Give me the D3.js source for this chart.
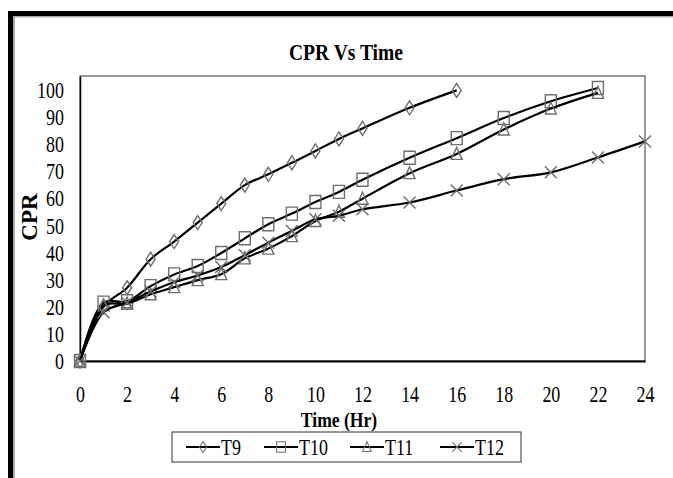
<!DOCTYPE html>
<html>
<head>
<meta charset="utf-8">
<script src="https://cdn.jsdelivr.net/npm/d3@7"></script>
<style>
    body { margin: 0; background: #fff; }
    svg text { font-family: "Liberation Serif", "DejaVu Serif", serif; fill: #000; }
</style>
</head>
<body>
<div id="chart"></div>
<script>
// data
const time = [0, 1, 2, 3, 4, 5, 6, 7, 8, 9, 10, 11, 12, 14, 16, 18, 20, 22, 24];
const t9 = [0, 20, 27, 37.5, 44, 51, 58, 64.8, 68.8, 73, 77.4, 81.8, 85.7, 93.3, 99.7];
const t10 = [0, 21.5, 22, 27.6, 31.9, 35, 39.8, 45.2, 50.4, 54.3, 58.6, 62.3, 66.8, 74.9, 82.1, 89.5, 95.7, 100.6];
const t11 = [0, 20.5, 21.1, 24.6, 27.2, 29.8, 32, 37.8, 41.4, 46, 51.6, 55, 59.8, 69.2, 76.3, 85.3, 93, 98.8];
const t12 = [0, 18, 21.5, 25.6, 29, 31.5, 34.6, 39, 43.6, 47.9, 52.2, 53.5, 55.9, 58.4, 62.8, 67, 69.5, 75, 80.9];
const seriesNames = ["T9", "T10", "T11", "T12"];
const seriesMarkers = ["diamond", "square", "triangle", "cross"];
const xTicks = [0, 2, 4, 6, 8, 10, 12, 14, 16, 18, 20, 22, 24];
const yTicks = [0, 10, 20, 30, 40, 50, 60, 70, 80, 90, 100];

function cprchart() {
    let width = 673,
        height = 478,
        left = 80,
        right = 645,
        top = 76,
        bottom = 361,
        squeeze = 0.78;

    let svg = d3.select("#chart")
        .append("svg")
        .attr("width", width)
        .attr("height", height);

    // outer frame (left and top only are visible)
    svg.append("rect").attr("x", 8).attr("y", 11).attr("width", 5).attr("height", height - 11).style("fill", "#000");
    svg.append("rect").attr("x", 13).attr("y", 16).attr("width", 2).attr("height", height - 16).style("fill", "#aaa");
    svg.append("rect").attr("x", 8).attr("y", 11).attr("width", width - 8).attr("height", 5).style("fill", "#000");
    svg.append("rect").attr("x", 13).attr("y", 16).attr("width", width - 13).attr("height", 1.5).style("fill", "#aaa");

    let x = d3.scaleLinear().domain([0, 24]).range([left, right]);
    let y = d3.scaleLinear().domain([0, 105]).range([bottom, top]);

    // plot border
    svg.append("rect")
        .attr("x", left).attr("y", top)
        .attr("width", right - left).attr("height", bottom - top)
        .style("fill", "none").style("stroke", "#555").style("stroke-width", 1.2);

    let yAxis = svg.append("g")
        .attr("class", "yaxis")
        .attr("transform", "translate(" + left + ",0)")
        .call(d3.axisLeft(y).tickValues(yTicks).tickSize(0).tickPadding(0));
    yAxis.select(".domain").style("stroke", "#000").style("stroke-width", 1.5);
    yAxis.selectAll(".tick text")
        .attr("x", null)
        .attr("dy", null)
        .style("font-size", "23px")
        .attr("dominant-baseline", "central")
        .attr("transform", "translate(-16,0) scale(" + squeeze + ",1)");

    let xAxis = svg.append("g")
        .attr("class", "xaxis")
        .attr("transform", "translate(0," + bottom + ")")
        .call(d3.axisBottom(x).tickValues(xTicks).tickSize(0).tickPadding(0));
    xAxis.select(".domain").style("stroke", "#000").style("stroke-width", 2);
    xAxis.selectAll(".tick text")
        .attr("y", null)
        .attr("dy", null)
        .style("font-size", "23px")
        .attr("dominant-baseline", "central")
        .attr("transform", "translate(0,33) scale(" + squeeze + ",1)");

    // titles
    svg.append("text")
        .attr("transform", "translate(346,52) scale(0.85,1)")
        .attr("text-anchor", "middle")
        .attr("dominant-baseline", "central")
        .style("font-size", "23px")
        .style("font-weight", 700)
        .text("CPR Vs Time");

    svg.append("text")
        .attr("transform", "translate(339,419) scale(0.8,1)")
        .attr("text-anchor", "middle")
        .attr("dominant-baseline", "central")
        .style("font-size", "22px")
        .style("font-weight", 700)
        .text("Time (Hr)");

    svg.append("text")
        .attr("transform", "translate(29,217) rotate(-90)")
        .attr("text-anchor", "middle")
        .attr("dominant-baseline", "central")
        .style("font-size", "23px")
        .style("font-weight", 700)
        .text("CPR");

    let allSeries = [t9, t10, t11, t12].map(function (vals, i) {
        return {
            name: seriesNames[i],
            marker: seriesMarkers[i],
            points: vals.map(function (v, j) {
                return { t: time[j], v: v };
            })
        };
    });

    let line = d3.line()
        .x(function (d) { return x(d.t); })
        .y(function (d) { return y(d.v); })
        .curve(d3.curveCatmullRom.alpha(0.5));

    function markerPath(kind) {
        if (kind === "diamond") return "M0,-7L4.5,0L0,7L-4.5,0Z";
        if (kind === "square") return "M-5.5,-6.5H5.5V6.5H-5.5Z";
        if (kind === "triangle") return "M0,-6.5L5.5,5.5H-5.5Z";
        return "M-6,-6L6,6M6,-6L-6,6";
    }

    let groups = svg.selectAll(".series")
        .data(allSeries)
        .enter()
        .append("g")
        .attr("class", "series");

    groups.append("path")
        .attr("d", function (d) { return line(d.points); })
        .style("fill", "none")
        .style("stroke", "#000")
        .style("stroke-width", 2.2);

    groups.each(function (s) {
        d3.select(this).selectAll(".mark")
            .data(s.points)
            .enter()
            .append("path")
            .attr("class", "mark")
            .attr("transform", function (d) {
                return "translate(" + x(d.t) + "," + y(d.v) + ")";
            })
            .attr("d", markerPath(s.marker))
            .style("fill", "none")
            .style("stroke", "#6e6e6e")
            .style("stroke-width", 1.4);
    });

    // legend
    let legend = svg.append("g").attr("class", "legend");
    legend.append("rect")
        .attr("x", 172).attr("y", 432)
        .attr("width", 349).attr("height", 30)
        .style("fill", "#fff").style("stroke", "#333").style("stroke-width", 1);

    let legendX = [186, 264, 350, 440];
    allSeries.forEach(function (s, i) {
        let lx = legendX[i];
        legend.append("line")
            .attr("x1", lx).attr("x2", lx + 34)
            .attr("y1", 447).attr("y2", 447)
            .style("stroke", "#000").style("stroke-width", 1.8);
        legend.append("path")
            .attr("transform", "translate(" + (lx + 17) + ",447) scale(0.8)")
            .attr("d", markerPath(s.marker))
            .style("fill", "none")
            .style("stroke", "#6e6e6e")
            .style("stroke-width", 1.3);
        legend.append("text")
            .attr("transform", "translate(" + (lx + 35) + ",447) scale(" + squeeze + ",1)")
            .attr("dominant-baseline", "central")
            .style("font-size", "23px")
            .text(s.name);
    });
}

cprchart();
</script>
</body>
</html>
